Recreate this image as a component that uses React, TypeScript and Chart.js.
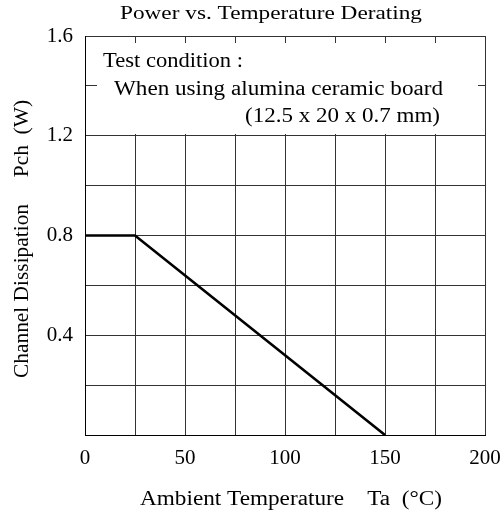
import React, { useEffect, useRef } from "react";
import { Chart, registerables } from "chart.js";

Chart.register(...registerables);

const title = "Power vs. Temperature Derating";
const xTitle = "Ambient Temperature    Ta  (°C)";
const yTitle = "Channel Dissipation     Pch  (W)";
const noteLines = ["Test condition :", "When using alumina ceramic board", "(12.5 x 20 x 0.7 mm)"];
const temps = [0, 25, 150];
const power = [0.8, 0.8, 0];
const xTickLabels = [0, 50, 100, 150, 200];
const yTickLabels = [0.4, 0.8, 1.2, 1.6];

const FONT = "'Liberation Serif', 'Times New Roman', serif";

function stretchedText(
  ctx: CanvasRenderingContext2D,
  text: string,
  x: number,
  y: number,
  targetWidth: number,
  align: "left" | "center" | "right",
  angle = 0
) {
  const w = ctx.measureText(text).width;
  const sx = targetWidth / w;
  ctx.save();
  ctx.translate(x, y);
  if (angle) ctx.rotate(angle);
  ctx.scale(sx, 1);
  ctx.textAlign = align;
  ctx.fillText(text, 0, 0);
  ctx.restore();
}

const textPlugin = {
  id: "texts",
  beforeDatasetsDraw(chart: any) {
    const { ctx, chartArea } = chart;
    const { left, top, right } = chartArea;
    ctx.save();
    ctx.fillStyle = "#fff";
    ctx.fillRect(left + 12, top + 7, right - left - 19, 91);
    ctx.fillStyle = "#000";
    ctx.font = `20px ${FONT}`;
    ctx.textBaseline = "alphabetic";
    stretchedText(ctx, noteLines[0], 103, 67, 140, "left");
    stretchedText(ctx, noteLines[1], 114, 95, 329, "left");
    stretchedText(ctx, noteLines[2], 440, 122, 195, "right");
    ctx.restore();
  },
  afterDraw(chart: any) {
    const { ctx } = chart;
    ctx.save();
    ctx.fillStyle = "#000";
    ctx.textBaseline = "alphabetic";
    ctx.font = `19px ${FONT}`;
    stretchedText(ctx, title, 271, 19, 302, "center");
    ctx.font = `20px ${FONT}`;
    stretchedText(ctx, xTitle, 291, 505, 302, "center");
    stretchedText(ctx, yTitle, 28, 239, 278, "center", -Math.PI / 2);
    ctx.restore();
  },
};

export default function App() {
  const ref = useRef<HTMLCanvasElement>(null);
  useEffect(() => {
    document.body.style.margin = "0";
    const chart = new Chart(ref.current!, {
      type: "line",
      data: {
        datasets: [
          {
            data: temps.map((t, i) => ({ x: t, y: power[i] })),
            borderColor: "#000",
            borderWidth: 2.6,
            pointRadius: 0,
            fill: false,
            tension: 0,
          },
        ],
      },
      options: {
        responsive: false,
        animation: false,
        layout: { padding: { left: 0, top: 36, right: 17, bottom: 0 } },
        plugins: { legend: { display: false }, tooltip: { enabled: false } },
        scales: {
          x: {
            type: "linear",
            min: 0,
            max: 200,
            afterFit: (s: any) => {
              s.height = 79;
              s.paddingLeft = 0;
              s.paddingRight = 0;
            },
            ticks: {
              stepSize: 25,
              padding: 11,
              color: "#000",
              font: { family: FONT, size: 21 },
              maxRotation: 0,
              autoSkip: false,
              callback: (v: any) => (xTickLabels.includes(Number(v)) ? String(v) : ""),
            },
            grid: { color: "#333", lineWidth: 1, drawTicks: false },
            border: { display: true, color: "#000", width: 1 },
          },
          y: {
            type: "linear",
            min: 0,
            max: 1.6,
            afterFit: (s: any) => {
              s.width = 85;
              s.paddingTop = 0;
              s.paddingBottom = 0;
            },
            ticks: {
              stepSize: 0.2,
              padding: 12,
              color: "#000",
              autoSkip: false,
              font: { family: FONT, size: 21 },
              callback: (v: any) => {
                const n = Math.round(Number(v) * 10) / 10;
                return yTickLabels.includes(n) ? n.toFixed(1) : "";
              },
            },
            grid: { color: "#333", lineWidth: 1, drawTicks: false },
            border: { display: true, color: "#000", width: 1 },
          },
        },
      },
      plugins: [textPlugin],
    });
    return () => chart.destroy();
  }, []);
  return <canvas ref={ref} width={502} height={514} style={{ display: "block" }} />;
}
